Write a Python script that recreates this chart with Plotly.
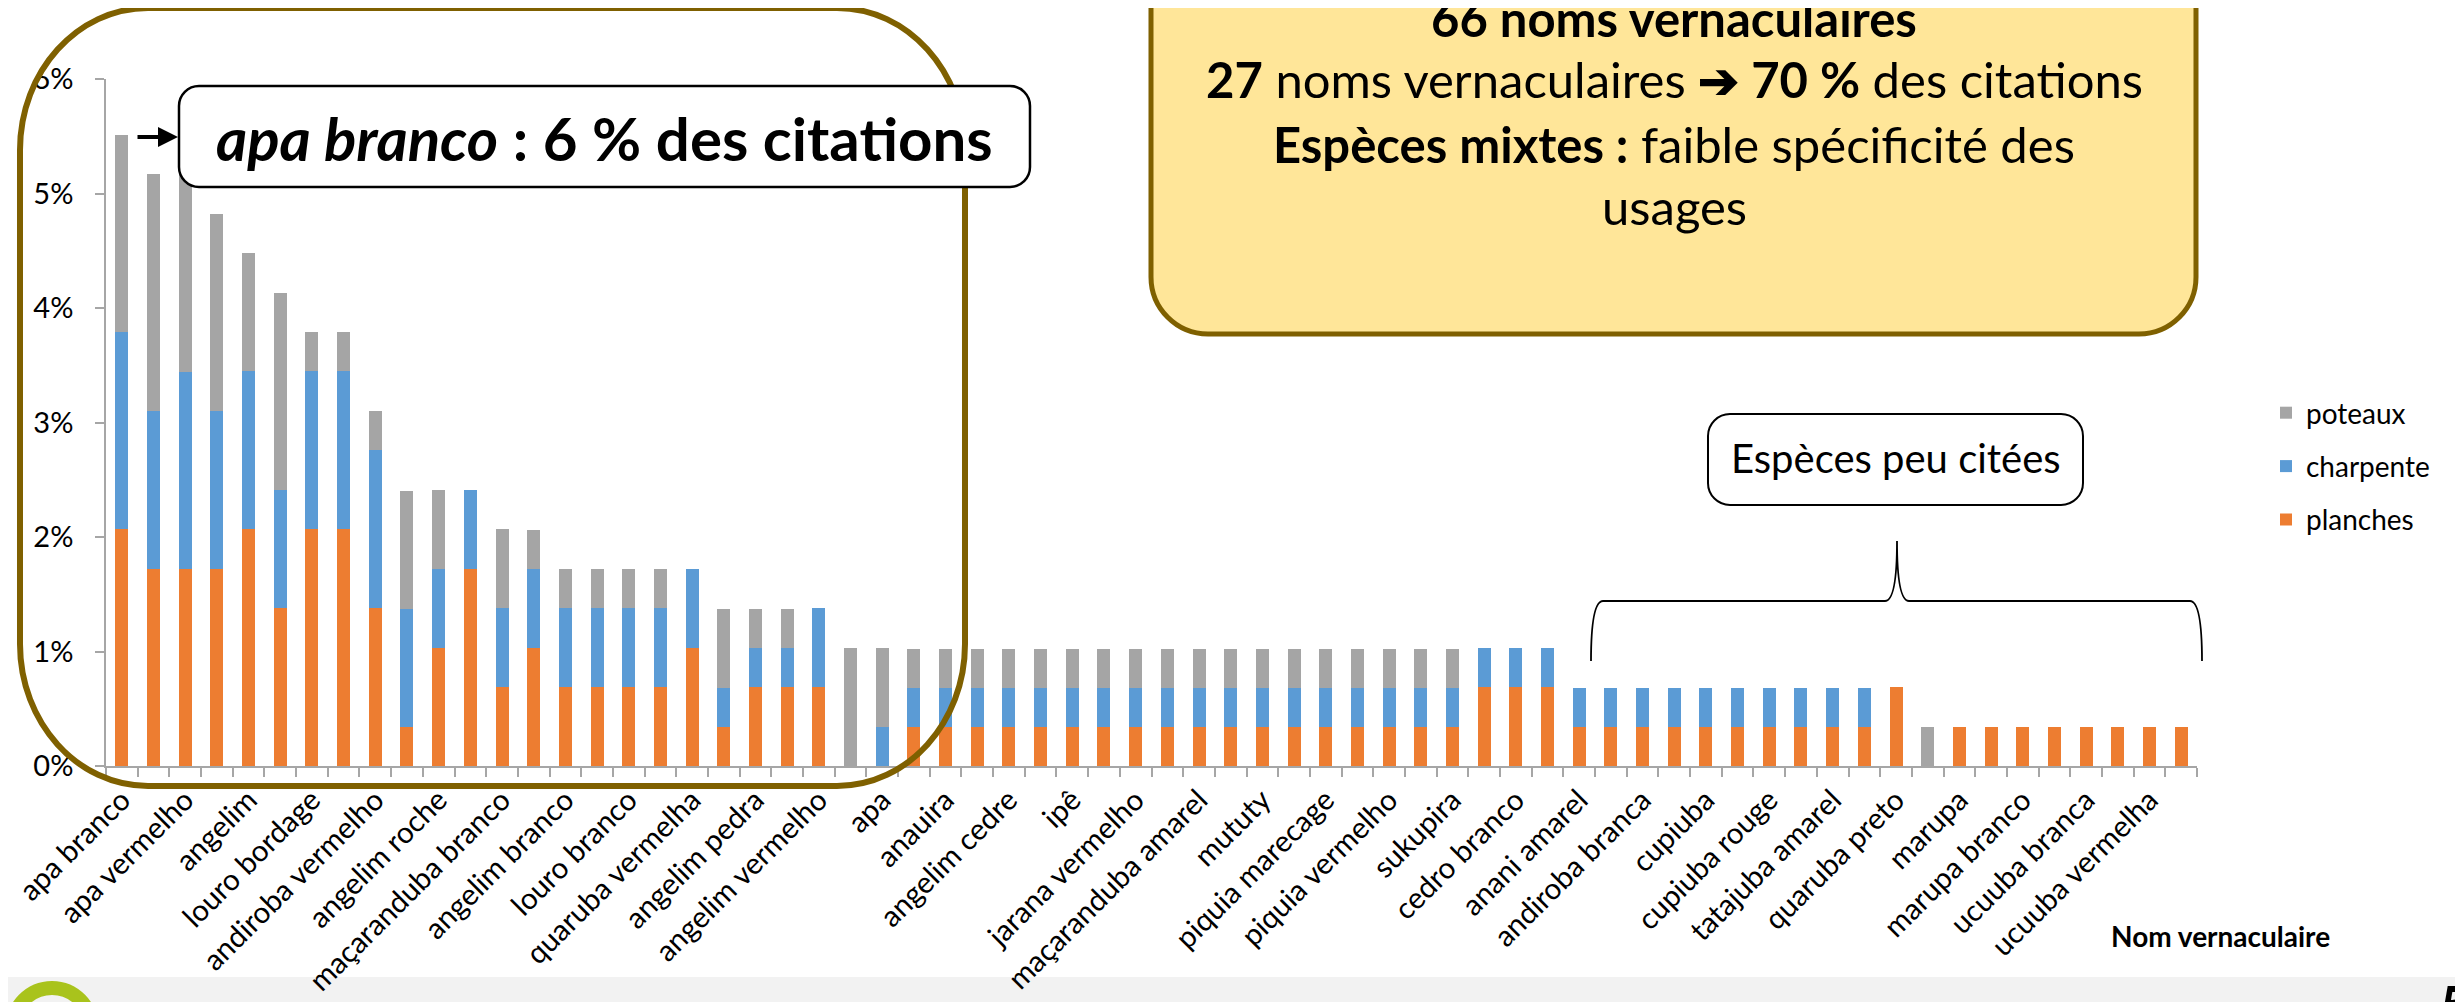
import plotly.graph_objects as go

# ---------------- data (percent of citations) ----------------
tick_labels = ["apa branco", "apa vermelho", "angelim", "louro bordage", "andiroba vermelho",
               "angelim roche", "maçaranduba branco", "angelim branco", "louro branco",
               "quaruba vermelha", "angelim pedra", "angelim vermelho", "apa", "anauira",
               "angelim cedre", "ipê", "jarana vermelho", "maçaranduba amarel", "mututy",
               "piquia marecage", "piquia vermelho", "sukupira", "cedro branco", "anani amarel",
               "andiroba branca", "cupiuba", "cupiuba rouge", "tatajuba amarel", "quaruba preto",
               "marupa", "marupa branco", "ucuuba branca", "ucuuba vermelha"]

planches = [2.07, 1.72, 1.72, 1.72, 2.07, 1.38, 2.07, 2.07, 1.38, 0.34, 1.03, 1.72, 0.69,
            1.03, 0.69, 0.69, 0.69, 0.69, 1.03, 0.34, 0.69, 0.69, 0.69, 0, 0,
            0.34, 0.34, 0.34, 0.34, 0.34, 0.34, 0.34, 0.34, 0.34, 0.34, 0.34, 0.34, 0.34,
            0.34, 0.34, 0.34, 0.34, 0.34,
            0.69, 0.69, 0.69,
            0.34, 0.34, 0.34, 0.34, 0.34, 0.34, 0.34, 0.34, 0.34, 0.34,
            0.69, 0,
            0.34, 0.34, 0.34, 0.34, 0.34, 0.34, 0.34, 0.34]
charpente = [1.72, 1.38, 1.72, 1.38, 1.38, 1.03, 1.38, 1.38, 1.38, 1.03, 0.69, 0.69, 0.69,
             0.69, 0.69, 0.69, 0.69, 0.69, 0.69, 0.34, 0.34, 0.34, 0.69, 0, 0.34,
             0.34, 0.34, 0.34, 0.34, 0.34, 0.34, 0.34, 0.34, 0.34, 0.34, 0.34, 0.34, 0.34,
             0.34, 0.34, 0.34, 0.34, 0.34,
             0.34, 0.34, 0.34,
             0.34, 0.34, 0.34, 0.34, 0.34, 0.34, 0.34, 0.34, 0.34, 0.34,
             0, 0,
             0, 0, 0, 0, 0, 0, 0, 0]
poteaux = [1.72, 2.07, 1.72, 1.72, 1.03, 1.72, 0.34, 0.34, 0.34, 1.03, 0.69, 0, 0.69,
           0.34, 0.34, 0.34, 0.34, 0.34, 0, 0.69, 0.34, 0.34, 0, 1.03, 0.69,
           0.34, 0.34, 0.34, 0.34, 0.34, 0.34, 0.34, 0.34, 0.34, 0.34, 0.34, 0.34, 0.34,
           0.34, 0.34, 0.34, 0.34, 0.34,
           0, 0, 0,
           0, 0, 0, 0, 0, 0, 0, 0, 0, 0,
           0, 0.34,
           0, 0, 0, 0, 0, 0, 0, 0]
y_tickvals = [0, 1, 2, 3, 4, 5, 6]
y_ticktext = ["0%", "1%", "2%", "3%", "4%", "5%", "6%"]

# ---------------- layout helpers (screen pixel coords) ----------------
SW, SH = 2463, 1002
OFF = 8                      # default page body margin
W, H = SW - OFF, SH - OFF
PL, PR, PT, PB = 106, 2197, 79, 766   # plot area on screen
ML, MT = PL - OFF, PT - OFF
MR, MB = W - (PR - OFF), H - (PB - OFF)
FONT = "Lato, 'Open Sans', sans-serif"
BROWN = "#7F6000"


def X(sx):
    return (sx - PL) / (PR - PL)


def Y(sy):
    return (PB - sy) / (PB - PT)


def P(x, y):
    return f"{X(x):.5f},{Y(y):.5f}"


def rrect(x0, y0, x1, y1, rx, ry):
    k = 0.5523
    return (f"M{P(x0 + rx, y0)} L{P(x1 - rx, y0)} "
            f"C{P(x1 - rx + k * rx, y0)} {P(x1, y0 + ry - k * ry)} {P(x1, y0 + ry)} "
            f"L{P(x1, y1 - ry)} "
            f"C{P(x1, y1 - ry + k * ry)} {P(x1 - rx + k * rx, y1)} {P(x1 - rx, y1)} "
            f"L{P(x0 + rx, y1)} "
            f"C{P(x0 + rx - k * rx, y1)} {P(x0, y1 - ry + k * ry)} {P(x0, y1 - ry)} "
            f"L{P(x0, y0 + ry)} "
            f"C{P(x0, y0 + ry - k * ry)} {P(x0 + rx - k * rx, y0)} {P(x0 + rx, y0)} Z")


n = len(planches)
xs = list(range(n))

fig = go.Figure()
for name, vals, col, rank in [("planches", planches, "#ED7D31", 3),
                              ("charpente", charpente, "#5B9BD5", 2),
                              ("poteaux", poteaux, "#A5A5A5", 1)]:
    fig.add_trace(go.Bar(x=xs, y=vals, name=name, marker=dict(color=col, line=dict(width=0)),
                         legendgroup=name, legendrank=rank))

fig.update_layout(
    width=W, height=H,
    margin=dict(l=ML, r=MR, t=MT, b=MB, autoexpand=False),
    barmode="stack", bargap=0.59,
    paper_bgcolor="white", plot_bgcolor="white",
    font=dict(family=FONT, size=26, color="black"),
    showlegend=True,
    legend=dict(x=X(2266), y=Y(388), xanchor="left", yanchor="top",
                traceorder="grouped", tracegroupgap=14,
                font=dict(size=28, family=FONT), bgcolor="rgba(0,0,0,0)"),
    xaxis=dict(range=[-0.5, n - 0.5], tickmode="array", tickvals=xs[::2], ticktext=tick_labels,
               tickangle=-45, ticks="", showline=True, linecolor="#A6A6A6", linewidth=2,
               showgrid=False, zeroline=False, ticklabelstandoff=3, automargin=False,
               tickfont=dict(size=29.5, family=FONT),
               minor=dict(tickmode="linear", tick0=-0.5, dtick=1, ticks="outside",
                          ticklen=9, tickcolor="#A6A6A6", tickwidth=1.5, showgrid=False)),
    yaxis=dict(range=[0, 6], tickmode="array", tickvals=y_tickvals, ticktext=y_ticktext,
               ticks="outside", ticklen=9, automargin=False,
               tickcolor="#A6A6A6", tickwidth=1.5, showline=True, linecolor="#A6A6A6",
               linewidth=1.5, showgrid=False, zeroline=False, ticklabelstandoff=16,
               tickfont=dict(size=29, family=FONT)),
)

shapes = []
# slide footer strip
shapes.append(dict(type="rect", xref="paper", yref="paper", x0=X(0), x1=X(SW), y0=Y(1010), y1=Y(977),
                   fillcolor="#F2F2F2", line=dict(width=0), layer="below"))
shapes.append(dict(type="circle", xref="paper", yref="paper", x0=X(12), x1=X(92), y0=Y(1070), y1=Y(988),
                   fillcolor="rgba(0,0,0,0)", line=dict(color="#A9C31C", width=14), layer="above"))
# brown rounded frame around the most cited species
shapes.append(dict(type="path", xref="paper", yref="paper", path=rrect(20, 8, 965, 786, 128, 142),
                   line=dict(color=BROWN, width=6), fillcolor="rgba(0,0,0,0)", layer="above"))
# apa branco callout
shapes.append(dict(type="path", xref="paper", yref="paper", path=rrect(179, 86, 1030, 187, 20, 20),
                   line=dict(color="black", width=2.5), fillcolor="white", layer="above"))
# yellow summary box
shapes.append(dict(type="path", xref="paper", yref="paper", path=rrect(1151, -90, 2196, 334, 57, 57),
                   line=dict(color=BROWN, width=5), fillcolor="#FFE699", layer="above"))
# especes peu citees box
shapes.append(dict(type="path", xref="paper", yref="paper", path=rrect(1708, 414, 2083, 505, 22, 22),
                   line=dict(color="black", width=2), fillcolor="white", layer="above"))
# curly brace
brace = (f"M{P(1591, 661)} Q{P(1591, 601)} {P(1603, 601)} L{P(1885, 601)} "
         f"Q{P(1897, 601)} {P(1897, 541)} Q{P(1897, 601)} {P(1909, 601)} "
         f"L{P(2190, 601)} Q{P(2202, 601)} {P(2202, 661)}")
shapes.append(dict(type="path", xref="paper", yref="paper", path=brace,
                   line=dict(color="black", width=1.8), layer="above"))
fig.update_layout(shapes=shapes)

ann = []
ann.append(dict(x=X(604), y=Y(138), xref="paper", yref="paper", showarrow=False,
                text="<b><i>apa branco</i> : 6 % des citations</b>",
                font=dict(size=60, family=FONT, color="black"), xanchor="center", yanchor="middle"))
ann.append(dict(x=X(178), y=Y(137), xref="paper", yref="paper", showarrow=True, text="",
                ax=-42, ay=0, arrowhead=2, arrowsize=1, arrowwidth=4, arrowcolor="black", standoff=0))
for txt, yy in [("<b>66 noms vernaculaires</b>", 18),
                ("<b>27</b> noms vernaculaires <b>➔ 70 %</b> des citations", 79),
                ("<b>Espèces mixtes :</b> faible spécificité des", 144),
                ("usages", 206)]:
    ann.append(dict(x=X(1674), y=Y(yy), xref="paper", yref="paper", showarrow=False, text=txt,
                    font=dict(size=49, family=FONT, color="black"), xanchor="center", yanchor="middle"))
ann.append(dict(x=X(1896), y=Y(458), xref="paper", yref="paper", showarrow=False,
                text="Espèces peu citées", font=dict(size=40, family=FONT, color="black"),
                xanchor="center", yanchor="middle"))
ann.append(dict(x=X(2220), y=Y(936), xref="paper", yref="paper", showarrow=False,
                text="<b>Nom vernaculaire</b>", font=dict(size=28, family=FONT, color="black"),
                xanchor="center", yanchor="middle"))
ann.append(dict(x=X(2438), y=Y(970), xref="paper", yref="paper", showarrow=False,
                text="<b>5</b>", font=dict(size=54, family=FONT, color="black"),
                xanchor="left", yanchor="top"))
fig.update_layout(annotations=ann)

fig.write_html("out.html")
